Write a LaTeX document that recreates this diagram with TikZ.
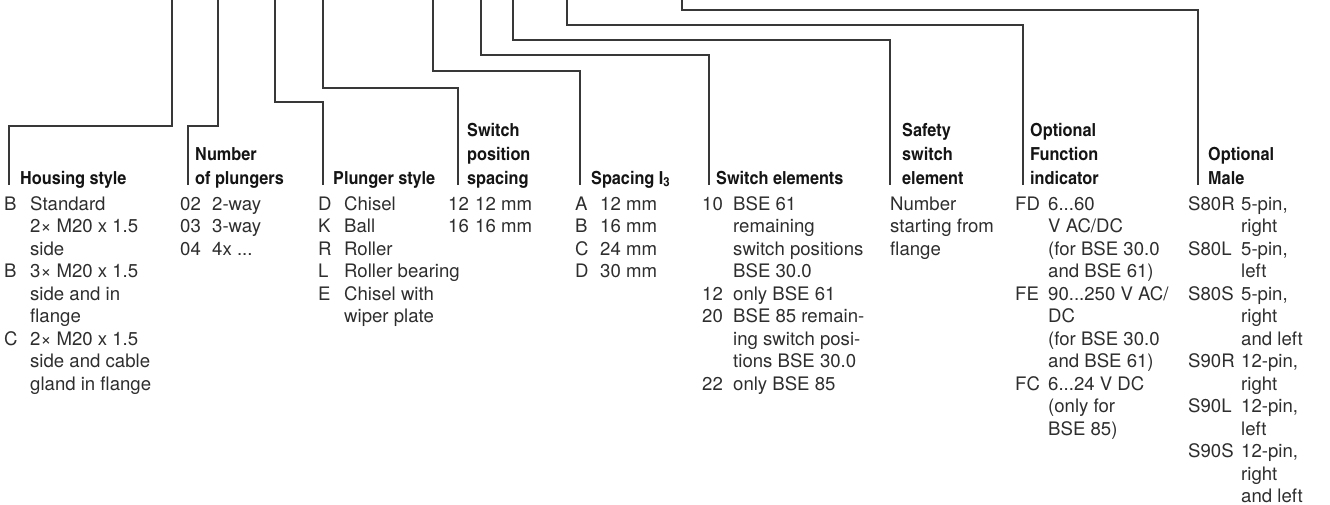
\documentclass[tikz,border=0pt]{standalone}
\usepackage{fontspec}
\setmainfont{TeX Gyre Heros}
\newfontfamily\hdrfont{texgyreheroscn-bold.otf}[FakeStretch=1.1]
\newcommand\hdrtab[1]{\begin{tabular}[b]{@{}l@{}}#1\end{tabular}}
\newcommand\bodytab[2]{\begin{tabular}[t]{@{}p{#1}@{}l@{}}#2\end{tabular}}
\newcommand\plaintab[1]{\begin{tabular}[t]{@{}l@{}}#1\end{tabular}}
\tikzset{
  lead/.style={draw=black!78, line width=1.1pt},
  hdr/.style={anchor=base west, inner sep=0pt, text=black!92, font=\hdrfont\fontsize{18}{23.8}\selectfont},
  body/.style={anchor=base west, inner sep=0pt, text=black!82, font=\fontsize{18.6}{22.5}\selectfont}
}
\begin{document}
\begin{tikzpicture}[x=1pt,y=-1pt]
\useasboundingbox (0,0) rectangle (1330,504);

% connectors
\foreach \n/\tx/\ky/\bx in {1/172/126/9, 2/218/126/188, 3/275/102/323, 4/323/88/458,
  5/433/71/580, 6/481/55/709, 7/513/40/890, 8/567/25/1023, 9/682/10/1198}{
  \coordinate (t\n) at (\tx,0);
  \coordinate (b\n) at (\bx,185);
  \draw[lead] (t\n) -- (\tx,\ky) -| (b\n);
}

% headers
\node[hdr] (h1) at (20,184) {\hdrtab{Housing style}};
\node[hdr] (h2) at (195,184) {\hdrtab{Number\\of plungers}};
\node[hdr] (h3) at (333,184) {\hdrtab{Plunger style}};
\node[hdr] (h4) at (467,184) {\hdrtab{Switch\\position\\spacing}};
\node[hdr] (h5) at (591,184) {\hdrtab{Spacing I\textsubscript{3}}};
\node[hdr] (h6) at (716,184) {\hdrtab{Switch elements}};
\node[hdr] (h7) at (902,184) {\hdrtab{Safety\\switch\\element}};
\node[hdr] (h8) at (1030,184) {\hdrtab{Optional\\Function\\indicator}};
\node[hdr] (h9) at (1208,184) {\hdrtab{Optional\\Male}};

% option lists
\node[body] (c1) at (4,210) {\bodytab{26pt}{B & Standard\\ & 2× M20 x 1.5\\ & side\\
  B & 3× M20 x 1.5\\ & side and in\\ & flange\\
  C & 2× M20 x 1.5\\ & side and cable\\ & gland in flange}};
\node[body] (c2) at (180,210) {\bodytab{32pt}{02 & 2-way\\ 03 & 3-way\\ 04 & 4x ...}};
\node[body] (c3) at (318,210) {\bodytab{26pt}{D & Chisel\\ K & Ball\\ R & Roller\\
  L & Roller bearing\\ E & Chisel with\\ & wiper plate}};
\node[body] (c4) at (448,210) {\bodytab{27pt}{12 & 12 mm\\ 16 & 16 mm}};
\node[body] (c5) at (575,210) {\bodytab{25pt}{A & 12 mm\\ B & 16 mm\\ C & 24 mm\\ D & 30 mm}};
\node[body] (c6) at (702,210) {\bodytab{31pt}{10 & BSE 61\\ & remaining\\ & switch positions\\ & BSE 30.0\\
  12 & only BSE 61\\ 20 & BSE 85 remain-\\ & ing switch posi-\\ & tions BSE 30.0\\
  22 & only BSE 85}};
\node[body] (c7) at (890,210) {\plaintab{Number\\starting from\\flange}};
\node[body] (c8) at (1015,210) {\bodytab{33pt}{FD & 6...60\\ & V AC/DC\\ & (for BSE 30.0\\ & and BSE 61)\\
  FE & 90...250 V AC/\\ & DC\\ & (for BSE 30.0\\ & and BSE 61)\\
  FC & 6...24 V DC\\ & (only for\\ & BSE 85)}};
\node[body] (c9) at (1188,210) {\bodytab{53pt}{S80R & 5-pin,\\ & right\\ S80L & 5-pin,\\ & left\\
  S80S & 5-pin,\\ & right\\ & and left\\ S90R & 12-pin,\\ & right\\
  S90L & 12-pin,\\ & left\\ S90S & 12-pin,\\ & right\\ & and left}};
\end{tikzpicture}
\end{document}
